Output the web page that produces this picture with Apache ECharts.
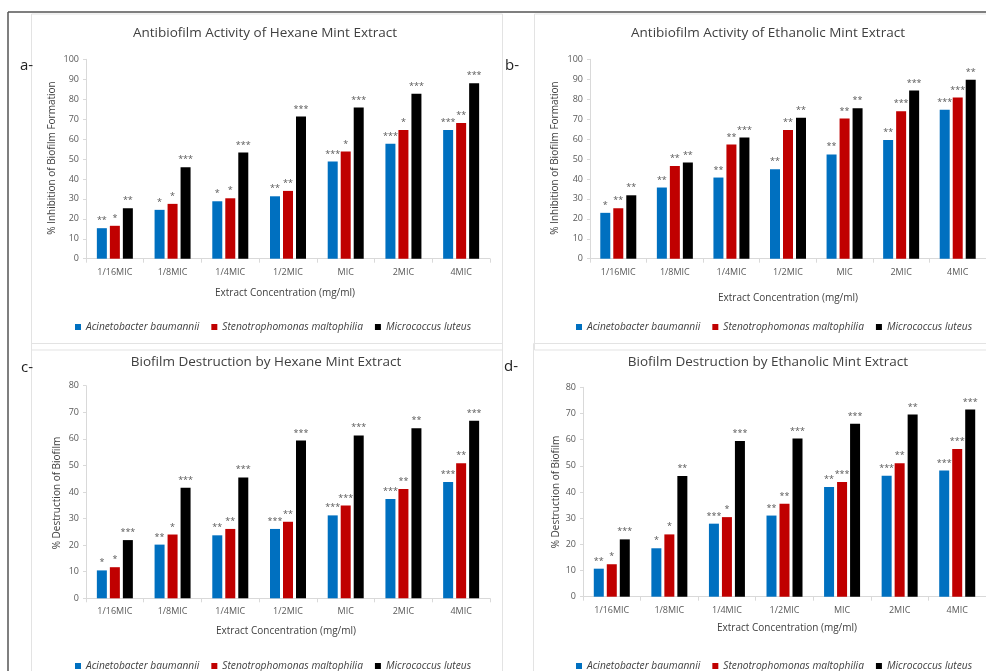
<!DOCTYPE html>
<html><head><meta charset="utf-8">
<script src="https://cdn.jsdelivr.net/npm/echarts@6/dist/echarts.min.js"></script>
<style>html,body{margin:0;padding:0;background:#fff}#c{width:986px;height:671px}</style>
</head><body><div id="c"></div>
<script>
const categories = ['1/16MIC','1/8MIC','1/4MIC','1/2MIC','MIC','2MIC','4MIC'];
const seriesNames = ['Acinetobacter baumannii','Stenotrophomonas maltophilia','Micrococcus luteus'];
const colors = ['#0070C0','#C00000','#000000'];
const titles = ['Antibiofilm Activity of Hexane Mint Extract','Antibiofilm Activity of Ethanolic Mint Extract','Biofilm Destruction by Hexane Mint Extract','Biofilm Destruction by Ethanolic Mint Extract'];
const panelLabels = ['a-','b-','c-','d-'];
const yTitles = ['% Inhibition of Biofilm Formation','% Inhibition of Biofilm Formation','% Destruction of Biofilm','% Destruction of Biofilm'];
const xTitle = 'Extract Concentration (mg/ml)';
const yMaxes = [100,100,80,80];

const aAcin  = [15.3,24.5,28.8,31.3,48.7,57.7,64.5];
const aSteno = [16.5,27.5,30.3,34.0,53.7,64.5,68.0];
const aMicro = [25.3,45.8,53.2,71.3,75.8,82.7,88.0];
const bAcin  = [23.0,35.7,40.7,44.8,52.3,59.5,74.7];
const bSteno = [25.3,46.5,57.3,64.5,70.3,74.0,80.8];
const bMicro = [31.8,48.2,60.8,70.7,75.4,84.3,89.8];
const cAcin  = [10.5,20.2,23.7,26.1,31.2,37.4,43.8];
const cSteno = [11.7,24.0,26.1,28.8,34.9,41.1,50.8];
const cMicro = [21.9,41.6,45.5,59.4,61.3,64.0,66.8];
const dAcin  = [10.7,18.5,27.9,31.0,41.9,46.2,48.2];
const dSteno = [12.4,23.8,30.4,35.5,43.8,51.0,56.4];
const dMicro = [21.9,46.1,59.5,60.4,66.1,69.6,71.5];

const aAcinSig  = ['**','*','*','**','***','***','***'];
const aStenoSig = ['*','*','*','**','*','*','**'];
const aMicroSig = ['**','***','***','***','***','***','***'];
const bAcinSig  = ['*','**','**','**','**','**','***'];
const bStenoSig = ['**','**','**','**','**','***','***'];
const bMicroSig = ['**','**','***','**','**','***','**'];
const cAcinSig  = ['*','**','**','***','***','***','***'];
const cStenoSig = ['*','*','**','**','***','**','**'];
const cMicroSig = ['***','***','***','***','***','**','***'];
const dAcinSig  = ['**','*','***','**','**','***','***'];
const dStenoSig = ['*','*','*','**','***','**','***'];
const dMicroSig = ['***','**','***','***','***','**','***'];

const panelValues = [[aAcin,aSteno,aMicro],[bAcin,bSteno,bMicro],[cAcin,cSteno,cMicro],[dAcin,dSteno,dMicro]];
const panelSigs = [[aAcinSig,aStenoSig,aMicroSig],[bAcinSig,bStenoSig,bMicroSig],[cAcinSig,cStenoSig,cMicroSig],[dAcinSig,dStenoSig,dMicroSig]];

// layout (pixels)
const grids = [
  {left:86, top:59.3, width:404, height:199.4},
  {left:590, top:59.3, width:402, height:199.4},
  {left:86, top:385.7, width:404, height:212.6},
  {left:583, top:387.3, width:406, height:209.4}
];
const titlePos = [[265,26],[768,26],[266,355],[768,355]];
const labelPos = [[20,58],[505,58],[21,360],[504,359]];
const yTitlePos = [[52,158],[555,158],[57,493],[556,492]];
const xTitlePos = [[285,293],[788,298],[286,631],[787,628]];
const legendPos = [[70,317],[571,317],[70,656],[571,656]];

const font = '"Open Sans", "Liberation Sans", sans-serif';
const option = {
  animation:false,
  textStyle:{fontFamily:font},
  grid: grids.map(g=>Object.assign({containLabel:false},g)),
  xAxis: grids.map((g,i)=>({
    type:'category', gridIndex:i, data:categories,
    axisLine:{lineStyle:{color:'#d9d9d9'}},
    axisTick:{show:true, length:4, lineStyle:{color:'#d9d9d9'}},
    axisLabel:{color:'#595959', fontSize:9, margin:9, fontFamily:font}
  })),
  yAxis: grids.map((g,i)=>({
    type:'value', gridIndex:i, min:0, max:yMaxes[i], interval:10,
    splitLine:{show:false},
    axisLine:{show:true, lineStyle:{color:'#d9d9d9'}},
    axisTick:{show:true, length:3, lineStyle:{color:'#d9d9d9'}},
    axisLabel:{color:'#595959', fontSize:9, margin:7, fontFamily:font}
  })),
  legend: legendPos.map(p=>({
    left:p[0], top:p[1], width:600, itemWidth:6, itemHeight:6, itemGap:12, icon:'rect',
    data:seriesNames, selectedMode:false,
    textStyle:{fontStyle:'italic', fontSize:10.2, color:'#404040', fontFamily:font}
  })),
  series: [],
  graphic: []
};
panelValues.forEach((vals,p)=>{
  vals.forEach((v,s)=>{
    option.series.push({
      type:'bar', name:seriesNames[s], xAxisIndex:p, yAxisIndex:p, data:v,
      barWidth:10, barGap:'30%',
      itemStyle:{color:colors[s]},
      label:{show:true, position:'top', distance:3, fontSize:9, color:'#595959',
        formatter:(function(arr){return function(d){return arr[d.dataIndex];};})(panelSigs[p][s])}
    });
  });
});
const G = option.graphic;
// outer frame
G.push({type:'line', shape:{x1:8,y1:12,x2:986,y2:12}, style:{stroke:'#555',lineWidth:1.5}});
G.push({type:'line', shape:{x1:8,y1:12,x2:8,y2:671}, style:{stroke:'#555',lineWidth:1.5}});
// panel boxes
[[31,13.5,471,336],[534,13.5,460,336],[31,343,471,340],[533,343,460,340]].forEach(b=>{
  G.push({type:'rect', shape:{x:b[0]+0.5,y:b[1]+0.5,width:b[2],height:b[3]}, style:{fill:'none',stroke:'#e3e3e3',lineWidth:1}});
});
titles.forEach((t,i)=>{
  G.push({type:'text', x:titlePos[i][0], y:titlePos[i][1], style:{text:t, fontSize:13.5, fill:'#404040', fontFamily:font, textAlign:'center', textVerticalAlign:'top'}});
  G.push({type:'text', x:labelPos[i][0], y:labelPos[i][1], style:{text:panelLabels[i], fontSize:15, fill:'#222', fontFamily:font, textAlign:'left', textVerticalAlign:'top'}});
  G.push({type:'text', x:yTitlePos[i][0], y:yTitlePos[i][1], rotation:Math.PI/2, style:{text:yTitles[i], fontSize:10, fill:'#404040', fontFamily:font, textAlign:'center', textVerticalAlign:'middle'}});
  G.push({type:'text', x:xTitlePos[i][0], y:xTitlePos[i][1], style:{text:xTitle, fontSize:10, fill:'#404040', fontFamily:font, textAlign:'center', textVerticalAlign:'middle'}});
});
const chart = echarts.init(document.getElementById('c'), null, {renderer:'canvas'});
chart.setOption(option);
</script></body></html>
